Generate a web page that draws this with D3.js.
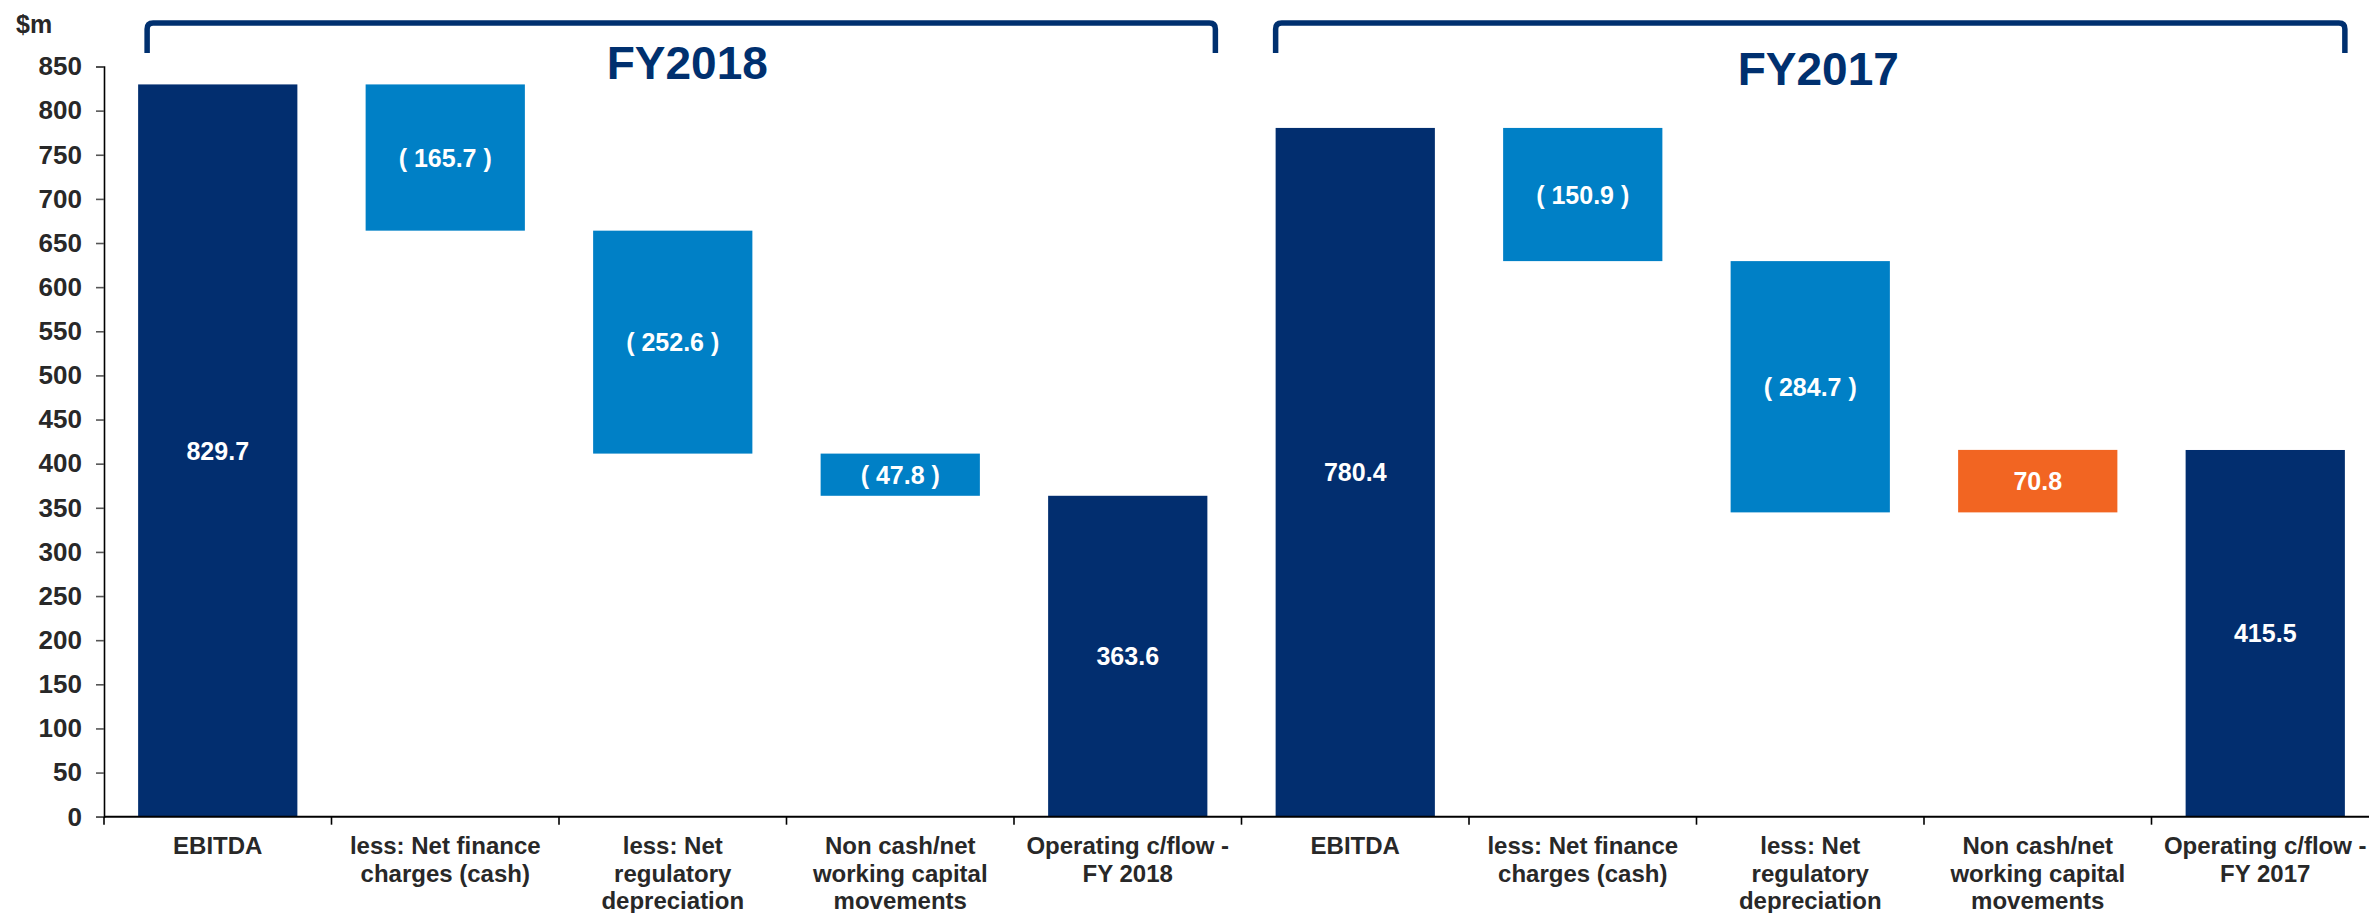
<!DOCTYPE html>
<html>
<head>
<meta charset="utf-8">
<script src="https://cdn.jsdelivr.net/npm/d3@7"></script>
<style>
  html, body { margin: 0; padding: 0; background: #ffffff; }
  svg { display: block; }
  text { font-family: "Liberation Sans", Arial, sans-serif; font-weight: bold; }
</style>
</head>
<body>
<svg id="chart" width="2369" height="913"></svg>
<script>
// ---------- DATA ----------
const categories = [
  ["EBITDA"],
  ["less: Net finance", "charges (cash)"],
  ["less: Net", "regulatory", "depreciation"],
  ["Non cash/net", "working capital", "movements"],
  ["Operating c/flow -", "FY 2018"],
  ["EBITDA"],
  ["less: Net finance", "charges (cash)"],
  ["less: Net", "regulatory", "depreciation"],
  ["Non cash/net", "working capital", "movements"],
  ["Operating c/flow -", "FY 2017"]
];
const values = [829.7, -165.7, -252.6, -47.8, 363.6, 780.4, -150.9, -284.7, 70.8, 415.5];
const kinds  = ["total", "delta", "delta", "delta", "total", "total", "delta", "delta", "delta", "total"];
const yTicks = [0, 50, 100, 150, 200, 250, 300, 350, 400, 450, 500, 550, 600, 650, 700, 750, 800, 850];
const groupLabels = ["FY2018", "FY2017"];
const groupFirst = [0, 5];
const groupLast = [4, 9];
const yUnit = "$m";

// ---------- BUILD ----------
let running = 0;
const bars = values.map((v, i) => {
  let lo, hi;
  if (kinds[i] === "total") { lo = 0; hi = v; running = v; }
  else { const s = running; running = s + v; lo = Math.min(s, running); hi = Math.max(s, running); }
  const label = kinds[i] === "delta" && v < 0 ? "( " + Math.abs(v).toFixed(1) + " )" : Math.abs(v).toFixed(1);
  const color = kinds[i] === "total" ? "#022e6f" : (v < 0 ? "#0080c6" : "#f26522");
  return { i, lo, hi, label, color };
});

const svg = d3.select("#chart");
const x = d3.scaleBand().domain(d3.range(categories.length)).range([104, 2379]).paddingInner(0.3).paddingOuter(0.15);
const y = d3.scaleLinear().domain([0, 850]).range([816.7, 66.5]);
const textColor = "#282828";

// bars
svg.append("g").selectAll("rect").data(bars).join("rect")
  .attr("x", d => x(d.i))
  .attr("width", x.bandwidth())
  .attr("y", d => y(d.hi))
  .attr("height", d => y(d.lo) - y(d.hi))
  .attr("fill", d => d.color);

// value labels
svg.append("g").selectAll("text").data(bars).join("text")
  .attr("x", d => x(d.i) + x.bandwidth() / 2)
  .attr("y", d => (y(d.lo) + y(d.hi)) / 2)
  .attr("dy", "0.36em")
  .attr("text-anchor", "middle")
  .attr("fill", "#ffffff")
  .style("font-size", "25px")
  .text(d => d.label);

// y axis
const yAxis = svg.append("g").attr("transform", "translate(104,0)")
  .call(d3.axisLeft(y).tickValues(yTicks).tickSize(8).tickPadding(14).tickFormat(d3.format("d")));
yAxis.select(".domain").attr("stroke", "#000").attr("stroke-width", 1.6);
yAxis.selectAll(".tick line").attr("stroke", "#555").attr("stroke-width", 1.6);
yAxis.selectAll(".tick text").attr("fill", textColor).style("font-size", "26px")
  .style("font-family", "'Liberation Sans', Arial, sans-serif").style("font-weight", "bold");

// x axis
const xAxisG = svg.append("g").attr("transform", "translate(0,816.7)");
xAxisG.append("line").attr("x1", 104).attr("x2", 2379).attr("y1", 0).attr("y2", 0)
  .attr("stroke", "#000").attr("stroke-width", 2);
const step = x.step();
const boundaries = d3.range(categories.length).map(i => x(i) - (step - x.bandwidth()) / 2);
xAxisG.selectAll("line.tk").data(boundaries).join("line").attr("class", "tk")
  .attr("x1", d => d).attr("x2", d => d).attr("y1", 0).attr("y2", 8)
  .attr("stroke", "#000").attr("stroke-width", 1.6);

const catG = svg.append("g").selectAll("text").data(categories).join("text")
  .attr("text-anchor", "middle")
  .attr("fill", textColor)
  .style("font-size", "24px")
  .attr("transform", (d, i) => `translate(${x(i) + x.bandwidth() / 2},854)`);
catG.selectAll("tspan").data(d => d).join("tspan")
  .attr("x", 0)
  .attr("y", (d, j) => j * 27.5)
  .text(d => d);

// y unit
svg.append("text").attr("x", 16).attr("y", 33).attr("fill", textColor)
  .style("font-size", "25px").text(yUnit);

// brackets + titles
const bracketColor = "#00306f";
const nudgeL = [9, 0], nudgeR = [8, 0], titleDy = [79, 85], titleDx = [6, 8];
groupLabels.forEach((g, k) => {
  const x0 = x(groupFirst[k]) + nudgeL[k];
  const x1 = x(groupLast[k]) + x.bandwidth() + nudgeR[k];
  const top = 23, bot = 53, r = 6;
  const p = d3.path();
  p.moveTo(x0, bot);
  p.lineTo(x0, top + r);
  p.quadraticCurveTo(x0, top, x0 + r, top);
  p.lineTo(x1 - r, top);
  p.quadraticCurveTo(x1, top, x1, top + r);
  p.lineTo(x1, bot);
  svg.append("path").attr("d", p.toString()).attr("fill", "none")
    .attr("stroke", bracketColor).attr("stroke-width", 5.5);
  svg.append("text").attr("x", (x0 + x1) / 2 + titleDx[k]).attr("y", titleDy[k])
    .attr("text-anchor", "middle").attr("fill", bracketColor)
    .style("font-size", "46px").text(g);
});
</script>
</body>
</html>
